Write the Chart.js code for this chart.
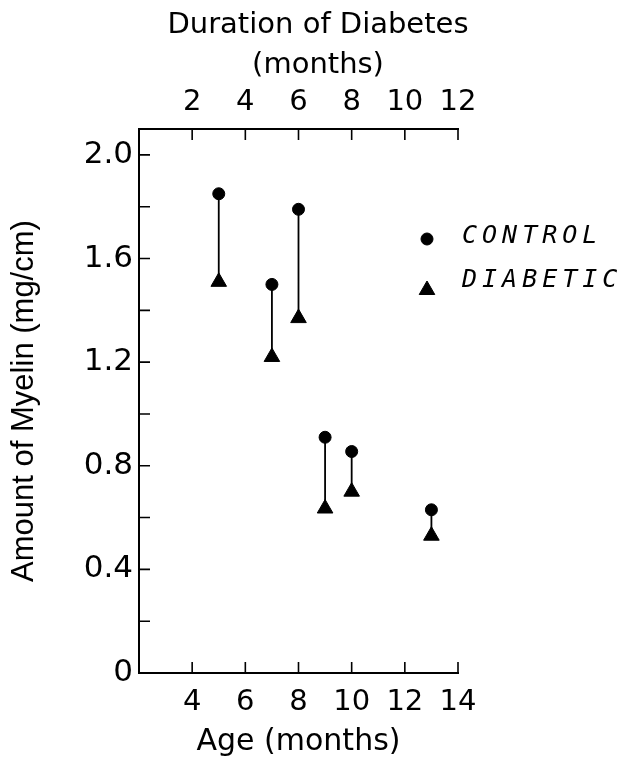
<!DOCTYPE html>
<html><head><meta charset="utf-8">
<script src="https://cdn.jsdelivr.net/npm/chart.js@4.4.1/dist/chart.umd.min.js"></script>
<style>html,body{margin:0;padding:0;background:#fff;}canvas{display:block;}</style>
</head><body>
<canvas id="c" width="636" height="760" style="width:636px;height:760px"></canvas>
<script>
// ---- data ----
const ageMonths = [5, 7, 8, 9, 10, 13];
const controlMyelin = [1.85, 1.50, 1.79, 0.91, 0.855, 0.63];
const diabeticMyelin = [1.51, 1.22, 1.37, 0.635, 0.70, 0.53];
const ageTicks = [4, 6, 8, 10, 12, 14];
const durationTicks = [2, 4, 6, 8, 10, 12];
const myelinTicks = [0, 0.2, 0.4, 0.6, 0.8, 1.0, 1.2, 1.4, 1.6, 1.8, 2.0];
const myelinTickLabels = ['0', '', '0.4', '', '0.8', '', '1.2', '', '1.6', '', '2.0'];
const seriesNames = ['CONTROL', 'DIABETIC'];
const ageRange = [2, 14];
const onsetAge = 2;   // duration = age - onsetAge
const myelinRange = [0, 2.1];

const BLACK = '#000';
const tickFont = {family: 'DejaVu Sans', size: 29, lineHeight: 1.2};

function setTicks(values) {
  return (scale) => { scale.ticks = values.map(v => ({value: v})); };
}

const inwardTicks = {
  id: 'inwardTicks',
  afterDraw(chart) {
    const {ctx, chartArea: ca} = chart;
    const len = 11;
    ctx.save();
    ctx.strokeStyle = BLACK;
    ctx.lineWidth = 1.6;
    ctx.beginPath();
    const y = chart.scales.y;
    y.ticks.forEach(t => { const p = y.getPixelForValue(t.value); ctx.moveTo(ca.left, p); ctx.lineTo(ca.left + len, p); });
    const xb = chart.scales.x;
    xb.ticks.forEach(t => { const p = xb.getPixelForValue(t.value); ctx.moveTo(p, ca.bottom); ctx.lineTo(p, ca.bottom - len); });
    const xt = chart.scales.x2;
    xt.ticks.forEach(t => { const p = xt.getPixelForValue(t.value); ctx.moveTo(p, ca.top); ctx.lineTo(p, ca.top + len); });
    ctx.stroke();
    ctx.restore();
  }
};

const stems = {
  id: 'stems',
  beforeDatasetsDraw(chart) {
    const {ctx} = chart;
    const xs = chart.scales.x, ys = chart.scales.y;
    ctx.save();
    ctx.strokeStyle = BLACK;
    ctx.lineWidth = 1.8;
    ctx.beginPath();
    ageMonths.forEach((a, i) => {
      const px = xs.getPixelForValue(a);
      ctx.moveTo(px, ys.getPixelForValue(controlMyelin[i]));
      ctx.lineTo(px, ys.getPixelForValue(diabeticMyelin[i]));
    });
    ctx.stroke();
    ctx.restore();
  }
};

const keyLegend = {
  id: 'keyLegend',
  afterDraw(chart) {
    const {ctx} = chart;
    const rows = [
      {name: seriesNames[0], style: 'circle', r: 6, mx: 427, my: 239, ty: 236},
      {name: seriesNames[1], style: 'triangle', r: 9, mx: 427, my: 290, ty: 280}
    ];
    ctx.save();
    rows.forEach(row => {
      ctx.fillStyle = BLACK; ctx.strokeStyle = BLACK; ctx.lineWidth = 1;
      Chart.helpers.drawPoint(ctx, {pointStyle: row.style, radius: row.r, borderWidth: 1, rotation: 0}, row.mx, row.my);
      ctx.font = 'italic 25px "DejaVu Sans Mono"';
      if ('letterSpacing' in ctx) ctx.letterSpacing = '5px';
      ctx.textBaseline = 'middle';
      ctx.textAlign = 'left';
      ctx.fillText(row.name, 462, row.ty);
    });
    ctx.restore();
  }
};

new Chart(document.getElementById('c'), {
  type: 'scatter',
  data: {
    datasets: [
      {
        label: seriesNames[0],
        data: ageMonths.map((a, i) => ({x: a, y: controlMyelin[i]})),
        pointStyle: 'circle', pointRadius: 6, pointHoverRadius: 6,
        backgroundColor: BLACK, borderColor: BLACK, borderWidth: 1,
        xAxisID: 'x', yAxisID: 'y'
      },
      {
        label: seriesNames[1],
        data: ageMonths.map((a, i) => ({x: a, y: diabeticMyelin[i]})),
        pointStyle: 'triangle', pointRadius: 9, pointHoverRadius: 9,
        backgroundColor: BLACK, borderColor: BLACK, borderWidth: 1,
        xAxisID: 'x', yAxisID: 'y'
      }
    ]
  },
  options: {
    responsive: false,
    devicePixelRatio: 1,
    animation: false,
    layout: {padding: 0},
    plugins: {
      legend: {display: false},
      tooltip: {enabled: false},
      title: {
        display: true,
        text: ['Duration of Diabetes', '(months)'],
        color: BLACK,
        font: {family: 'DejaVu Sans', size: 29, weight: 'normal', lineHeight: '40px'},
        padding: {top: 5, bottom: 0}
      }
    },
    scales: {
      x: {
        type: 'linear', position: 'bottom', min: ageRange[0], max: ageRange[1], offset: false,
        afterBuildTicks: setTicks(ageTicks),
        afterFit: (s) => { s.height = 87; },
        grid: {display: false, drawTicks: false},
        border: {display: true, color: BLACK, width: 2},
        ticks: {color: BLACK, font: tickFont, padding: 12, autoSkip: false, maxRotation: 0,
                callback: (v) => String(v)},
        title: {display: true, text: 'Age (months)', color: BLACK,
                font: {family: 'DejaVu Sans', size: 30, lineHeight: 1.2}, padding: {top: 0, bottom: 0}}
      },
      x2: {
        type: 'linear', position: 'top', min: ageRange[0] - onsetAge, max: ageRange[1] - onsetAge, offset: false,
        afterBuildTicks: setTicks(durationTicks),
        afterFit: (s) => { s.height = 44; },
        grid: {display: false, drawTicks: false},
        border: {display: true, color: BLACK, width: 2},
        ticks: {color: BLACK, font: tickFont, padding: 9, autoSkip: false, maxRotation: 0,
                callback: (v) => String(v)}
      },
      y: {
        type: 'linear', position: 'left', min: myelinRange[0], max: myelinRange[1],
        afterBuildTicks: setTicks(myelinTicks),
        afterFit: (s) => { s.width = 139; },
        grid: {display: false, drawTicks: false},
        border: {display: true, color: BLACK, width: 2},
        ticks: {color: BLACK, font: {family: 'DejaVu Sans', size: 31, lineHeight: 1.2}, padding: 6, autoSkip: false,
                callback: (v, i) => myelinTickLabels[i]},
        title: {display: true, text: 'Amount of Myelin (mg/cm)', color: BLACK,
                font: {family: 'Liberation Sans', size: 31, lineHeight: 1.2}, padding: {top: 6, bottom: 0}}
      },
      yr: {
        type: 'linear', position: 'right', display: true,
        afterFit: (s) => { s.width = 178; },
        grid: {display: false, drawTicks: false},
        border: {display: false},
        ticks: {display: false}
      }
    }
  },
  plugins: [stems, inwardTicks, keyLegend]
});
</script>
</body></html>
